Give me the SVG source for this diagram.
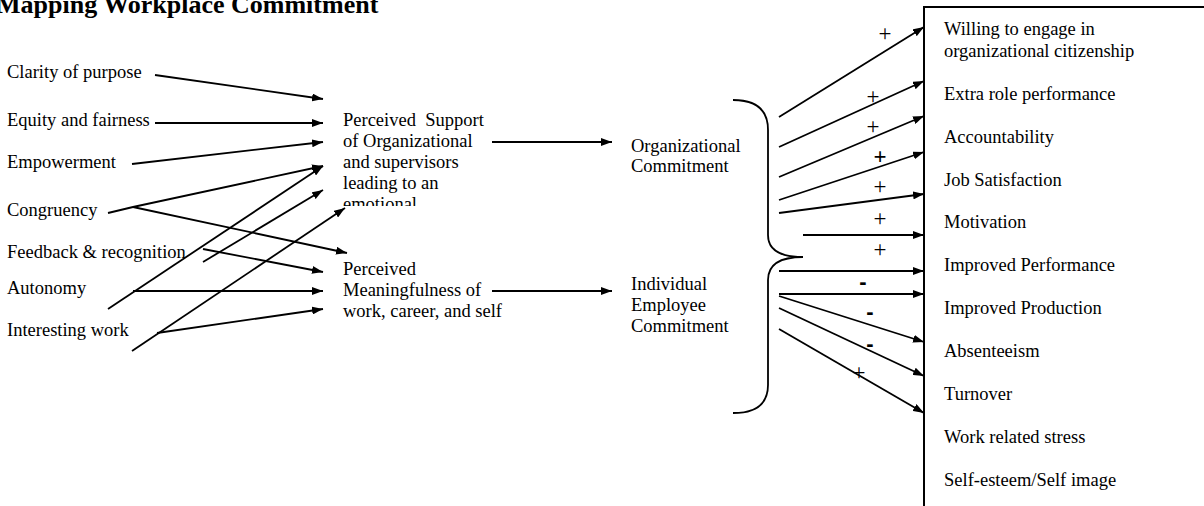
<svg xmlns="http://www.w3.org/2000/svg" width="1204" height="506" viewBox="0 0 1204 506">
<defs>
<marker id="ah" markerUnits="userSpaceOnUse" markerWidth="11" markerHeight="8" refX="11" refY="4" orient="auto">
<path d="M0,0 L11,4 L0,8 z" fill="#000"/>
</marker>
<clipPath id="clipS"><rect x="335" y="100" width="170" height="106"/></clipPath>
<style>
text{font-family:"Liberation Serif","Times New Roman",serif;font-size:18.5px;fill:#000}
.title{font-size:26px;font-weight:bold}
.sg{font-size:23px;text-anchor:middle}
.mn{font-family:"Liberation Sans",Arial,sans-serif;font-size:22px;font-weight:bold;text-anchor:middle}
.c line,.c polyline,.c path{stroke:#000;stroke-width:1.8;fill:none}
.a{marker-end:url(#ah)}
.box{stroke:#000;stroke-width:2;fill:none}
</style>
</defs>
<rect width="1204" height="506" fill="#fff"/>
<text class="title" x="-4" y="13">Mapping Workplace Commitment</text>

<g id="n-clarity"><text x="7" y="78">Clarity of purpose</text></g>
<g id="n-equity"><text x="7" y="126">Equity and fairness</text></g>
<g id="n-empower"><text x="7" y="168">Empowerment</text></g>
<g id="n-congruency"><text x="7" y="216">Congruency</text></g>
<g id="n-feedback"><text x="7" y="258">Feedback &amp; recognition</text></g>
<g id="n-autonomy"><text x="7" y="294">Autonomy</text></g>
<g id="n-interesting"><text x="7" y="336">Interesting work</text></g>

<g id="n-support" clip-path="url(#clipS)">
<text x="343" y="126" xml:space="preserve">Perceived  Support</text>
<text x="343" y="147">of Organizational</text>
<text x="343" y="168">and supervisors</text>
<text x="343" y="189">leading to an</text>
<text x="343" y="210">emotional</text>
</g>
<g id="n-meaning">
<text x="343" y="275">Perceived</text>
<text x="343" y="296">Meaningfulness of</text>
<text x="343" y="317">work, career, and self</text>
</g>
<g id="n-orgcommit">
<text x="631" y="152">Organizational</text>
<text x="631" y="172">Commitment</text>
</g>
<g id="n-indcommit">
<text x="631" y="290">Individual</text>
<text x="631" y="311">Employee</text>
<text x="631" y="332">Commitment</text>
</g>

<g id="n-outcomes">
<path class="box" d="M924,506 L924,7 L1204,7"/>
<text x="944" y="35">Willing to engage in</text>
<text x="944" y="57">organizational citizenship</text>
<text x="944" y="100">Extra role performance</text>
<text x="944" y="143">Accountability</text>
<text x="944" y="186">Job Satisfaction</text>
<text x="944" y="228">Motivation</text>
<text x="944" y="271">Improved Performance</text>
<text x="944" y="314">Improved Production</text>
<text x="944" y="357">Absenteeism</text>
<text x="944" y="400">Turnover</text>
<text x="944" y="443">Work related stress</text>
<text x="944" y="486">Self-esteem/Self image</text>
</g>

<g id="connectors" class="c">
<line class="a" x1="155" y1="75" x2="323" y2="99"/>
<line class="a" x1="155" y1="123" x2="323" y2="123"/>
<line class="a" x1="132" y1="164" x2="323" y2="142"/>
<polyline class="a" points="108,213 133,207 323,166"/>
<line class="a" x1="133" y1="207" x2="347" y2="253"/>
<line class="a" x1="108" y1="309" x2="323" y2="166"/>
<line class="a" x1="203" y1="262" x2="323" y2="190"/>
<line class="a" x1="203" y1="249" x2="323" y2="272"/>
<line class="a" x1="133" y1="291" x2="323" y2="291"/>
<line class="a" x1="132" y1="351" x2="345" y2="208"/>
<line class="a" x1="157" y1="333" x2="323" y2="309"/>
<line class="a" x1="492" y1="142" x2="612" y2="142"/>
<line class="a" x1="492" y1="291" x2="612" y2="291"/>

<path d="M733,100 Q768,100 768,130 L768,235 Q768,257 803,257 Q768,257 768,280 L768,385 Q768,413 733,413"/>

<line class="a" x1="779" y1="117" x2="924" y2="27"/>
<line class="a" x1="779" y1="147" x2="924" y2="81"/>
<line class="a" x1="779" y1="177" x2="924" y2="116"/>
<line class="a" x1="779" y1="200" x2="924" y2="152"/>
<line class="a" x1="779" y1="213" x2="924" y2="194"/>
<line class="a" x1="803" y1="235" x2="924" y2="235"/>
<line class="a" x1="779" y1="271" x2="924" y2="271"/>
<line class="a" x1="779" y1="294" x2="924" y2="294"/>
<line class="a" x1="779" y1="296" x2="924" y2="342"/>
<line class="a" x1="779" y1="308" x2="924" y2="376"/>
<line class="a" x1="779" y1="329" x2="924" y2="413"/>
</g>

<g id="signs">
<text class="sg" x="885" y="41">+</text>
<text class="sg" x="873" y="104">+</text>
<text class="sg" x="873" y="134">+</text>
<text class="sg" x="880" y="164" style="font-weight:bold">+</text>
<text class="sg" x="880" y="194">+</text>
<text class="sg" x="880" y="226">+</text>
<text class="sg" x="880" y="257">+</text>
<text class="mn" x="863" y="289">-</text>
<text class="mn" x="870" y="319">-</text>
<text class="mn" x="870" y="351">-</text>
<text class="sg" x="859" y="380">+</text>
</g>
</svg>
